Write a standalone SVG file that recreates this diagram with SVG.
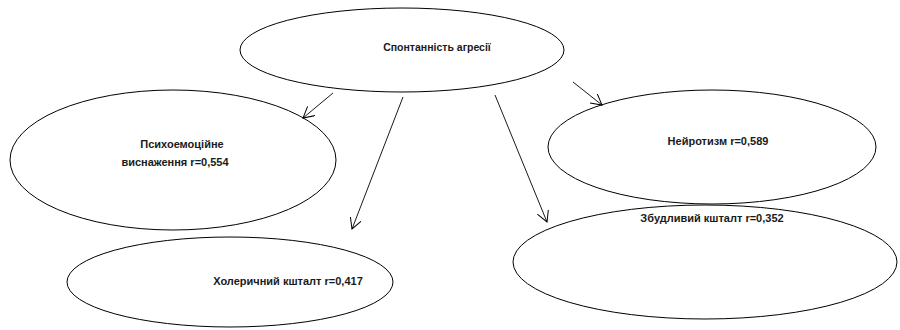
<svg xmlns="http://www.w3.org/2000/svg" width="900" height="330" viewBox="0 0 900 330">
<defs>
<style>
.n{fill:#fff;stroke:#000;stroke-width:1}
.t{font-family:"Liberation Sans",Arial,sans-serif;font-weight:bold;font-size:11px;fill:#1a1a1a;text-anchor:middle}
.c{stroke:#000;stroke-width:0.9;fill:none;marker-end:url(#a)}
</style>
<marker id="a" viewBox="0 0 12 12" refX="11" refY="6" markerWidth="12" markerHeight="12" markerUnits="userSpaceOnUse" orient="auto">
<path d="M0,0 L11,6 L0,12" fill="none" stroke="#000" stroke-width="1"/>
</marker>
</defs>
<rect width="900" height="330" fill="#fff"/>
<g id="n-left"><ellipse class="n" cx="173" cy="160" rx="163" ry="70"/>
<text class="t" x="182" y="148">Психоемоційне</text><text class="t" x="175" y="166">виснаження r=0,554</text></g>
<g id="n-right"><ellipse class="n" cx="712" cy="147" rx="164" ry="57"/>
<text class="t" x="718" y="145">Нейротизм r=0,589</text></g>
<g id="n-bottomright"><ellipse class="n" cx="705" cy="262" rx="192" ry="57"/>
<text class="t" x="712" y="222">Збудливий кшталт r=0,352</text></g>
<g id="n-bottomleft"><ellipse class="n" cx="230" cy="282" rx="163" ry="45"/>
<text class="t" x="288" y="285">Холеричний кшталт r=0,417</text></g>
<g id="n-top"><ellipse class="n" cx="402" cy="50" rx="162" ry="42"/>
<text class="t" x="437" y="51" style="font-size:10.5px">Спонтанність агресії</text></g>
<g id="connectors">
<line class="c" x1="333" y1="93" x2="303" y2="118"/>
<line class="c" x1="403" y1="97" x2="352" y2="229"/>
<line class="c" x1="495" y1="95" x2="547" y2="222"/>
<line class="c" x1="573" y1="82" x2="602" y2="105"/>
</g>
</svg>
